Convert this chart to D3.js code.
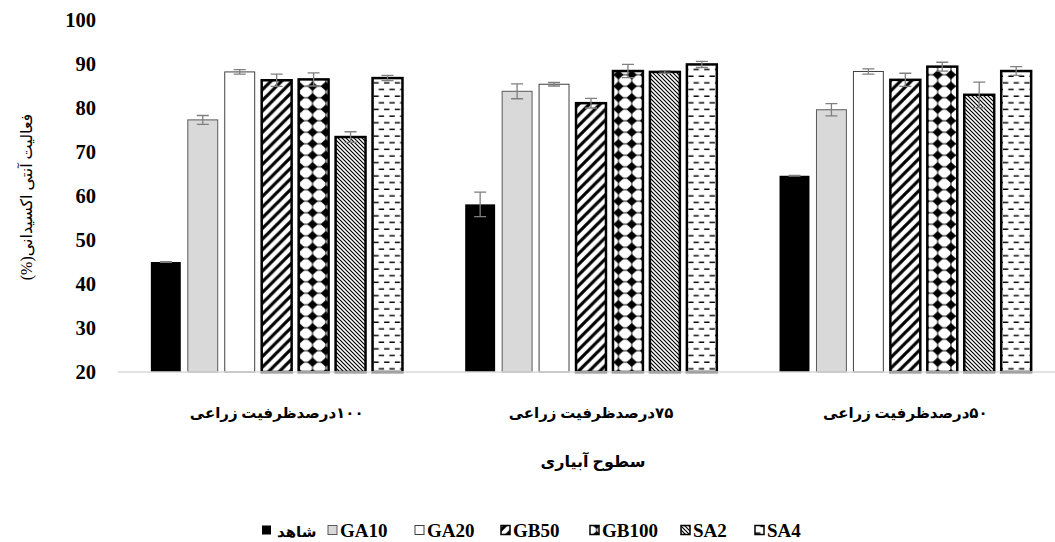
<!DOCTYPE html>
<html>
<head>
<meta charset="utf-8">
<script src="https://cdn.jsdelivr.net/npm/d3@7"></script>
<style>
  html, body { margin: 0; padding: 0; background: #fff; }
  svg { display: block; }
  .fa { direction: rtl; unicode-bidi: embed; }
</style>
</head>
<body>
<svg id="chart" width="1055" height="542"></svg>
<script>
// Irrigation levels (x groups)
const groups = ["۱۰۰درصدظرفیت زراعی", "۷۵درصدظرفیت زراعی", "۵۰درصدظرفیت زراعی"];
// Treatments (series)
const series = ["شاهد", "GA10", "GA20", "GB50", "GB100", "SA2", "SA4"];
// Antioxidant activity (%) per treatment, one value per irrigation level
const controlVals = [45.0, 58.1, 64.6];
const ga10Vals    = [77.3, 83.8, 79.6];
const ga20Vals    = [88.2, 85.4, 88.3];
const gb50Vals    = [86.3, 81.1, 86.4];
const gb100Vals   = [86.5, 88.4, 89.4];
const sa2Vals     = [73.4, 88.2, 83.0];
const sa4Vals     = [86.8, 89.9, 88.4];
// Standard errors
const controlErr = [0.1, 2.8, 0.1];
const ga10Err    = [1.0, 1.7, 1.4];
const ga20Err    = [0.5, 0.4, 0.6];
const gb50Err    = [1.4, 1.1, 1.5];
const gb100Err   = [1.5, 1.5, 1.0];
const sa2Err     = [1.2, 0.3, 2.9];
const sa4Err     = [0.6, 0.7, 1.0];
// Axis ticks and titles
const yTicks = [20, 30, 40, 50, 60, 70, 80, 90, 100];
const yTitle = "فعالیت آنتی اکسیدانی(%)";
const xTitle = "سطوح آبیاری";

const valueTable = [controlVals, ga10Vals, ga20Vals, gb50Vals, gb100Vals, sa2Vals, sa4Vals];
const errTable = [controlErr, ga10Err, ga20Err, gb50Err, gb100Err, sa2Err, sa4Err];

const rows = [];
groups.forEach((g, gi) => {
  series.forEach((s, si) => {
    rows.push({ group: g, series: s, si, value: valueTable[si][gi], err: errTable[si][gi] });
  });
});

const svg = d3.select("#chart");
const latin = "'Liberation Serif', 'Times New Roman', serif";
const persian = "'Liberation Serif', 'DejaVu Sans', sans-serif";

// ---- fill patterns ----
const defs = svg.append("defs");
const u = 10.67;

// wide upward diagonal
const pWide = defs.append("pattern").attr("id", "p-gb50")
  .attr("patternUnits", "userSpaceOnUse").attr("width", u).attr("height", u);
pWide.append("rect").attr("width", u).attr("height", u).attr("fill", "#fff");
pWide.append("path")
  .attr("d", `M${-u},${u} L${u},${-u} M0,${2*u} L${2*u},0 M${-u},${2*u} L${2*u},${-u}`)
  .attr("stroke", "#000").attr("stroke-width", 3.2);

// solid diamonds
const dw = 13.3, dh = 11.5;
const pDia = defs.append("pattern").attr("id", "p-gb100")
  .attr("patternUnits", "userSpaceOnUse").attr("width", dw).attr("height", dh);
pDia.append("rect").attr("width", dw).attr("height", dh).attr("fill", "#fff");
const cx0 = dw / 2, cy0 = dh / 2, rx = 5.2, ry = 4.8;
pDia.append("path")
  .attr("d", `M${cx0},${cy0 - ry} L${cx0 + rx},${cy0} L${cx0},${cy0 + ry} L${cx0 - rx},${cy0} Z`)
  .attr("fill", "#000");
pDia.append("path")
  .attr("d", `M${cx0},0 V${dh} M0,${cy0} H${dw}`)
  .attr("stroke", "#000").attr("stroke-width", 0.9);

// dark downward diagonal
const pDown = defs.append("pattern").attr("id", "p-sa2")
  .attr("patternUnits", "userSpaceOnUse").attr("width", 4).attr("height", 4);
pDown.append("rect").attr("width", 4).attr("height", 4).attr("fill", "#fff");
pDown.append("path")
  .attr("d", "M-1,-1 L5,5 M-1,3 L1,5 M3,-1 L5,1")
  .attr("stroke", "#000").attr("stroke-width", 1.2);

// dashed horizontal
const pDash = defs.append("pattern").attr("id", "p-sa4")
  .attr("patternUnits", "userSpaceOnUse").attr("width", u).attr("height", 13.3);
pDash.append("rect").attr("width", u).attr("height", 13.3).attr("fill", "#fff");
pDash.append("path")
  .attr("d", `M0,3 H5.3 M5.3,9.7 H${u}`)
  .attr("stroke", "#000").attr("stroke-width", 1.4);

const styles = {
  "شاهد":  { fill: "#000",            stroke: "none",    sw: 0 },
  "GA10":  { fill: "#d9d9d9",         stroke: "#5a5a5a", sw: 1 },
  "GA20":  { fill: "#fff",            stroke: "#404040", sw: 1 },
  "GB50":  { fill: "url(#p-gb50)",    stroke: "#000",    sw: 2.5 },
  "GB100": { fill: "url(#p-gb100)",   stroke: "#000",    sw: 2.5 },
  "SA2":   { fill: "url(#p-sa2)",     stroke: "#000",    sw: 2.5 },
  "SA4":   { fill: "url(#p-sa4)",     stroke: "#000",    sw: 2.5 }
};

// ---- scales ----
const x0 = d3.scaleBand().domain(groups).range([119.5, 1062.5])
  .paddingInner(0.176).paddingOuter(0.088);
const x1 = d3.scaleBand().domain(series).range([0, x0.bandwidth()])
  .paddingInner(0.19).paddingOuter(0.1);
const y = d3.scaleLinear().domain([20, 100]).range([372, 20]);

// ---- y axis labels ----
const yAxis = svg.append("g").attr("transform", "translate(118,0)")
  .call(d3.axisLeft(y).tickValues(yTicks).tickSize(0).tickPadding(22));
yAxis.select(".domain").remove();
yAxis.selectAll("text")
  .attr("font-family", latin).attr("font-weight", "bold")
  .attr("font-size", 20.5).attr("fill", "#000");

// ---- bars ----
const barG = svg.append("g");
barG.selectAll("rect").data(rows).join("rect")
  .attr("x", d => x0(d.group) + x1(d.series))
  .attr("y", d => y(d.value))
  .attr("width", x1.bandwidth())
  .attr("height", d => y(20) - y(d.value))
  .attr("fill", d => styles[d.series].fill)
  .attr("stroke", d => styles[d.series].stroke)
  .attr("stroke-width", d => styles[d.series].sw);

// ---- baseline ----
svg.append("line")
  .attr("x1", 118).attr("x2", 1055)
  .attr("y1", y(20)).attr("y2", y(20))
  .attr("stroke", "#d9d9d9").attr("stroke-width", 1.3);

// ---- error bars ----
const errG = svg.append("g").attr("stroke", "#7f7f7f").attr("stroke-width", 1.3).attr("fill", "none");
rows.forEach(d => {
  const cx = x0(d.group) + x1(d.series) + x1.bandwidth() / 2;
  const y1 = y(d.value + d.err), y2 = y(d.value - d.err);
  errG.append("path")
    .attr("d", `M${cx},${y1} V${y2} M${cx - 6},${y1} H${cx + 6} M${cx - 6},${y2} H${cx + 6}`);
});

// ---- category labels ----
svg.append("g").selectAll("text").data(groups).join("text")
  .attr("class", "fa")
  .attr("x", d => x0(d) + x0.bandwidth() / 2)
  .attr("y", 418)
  .attr("text-anchor", "middle")
  .attr("font-family", persian).attr("font-weight", "bold").attr("font-size", 15)
  .text(d => d);

// ---- axis titles ----
svg.append("text").attr("class", "fa")
  .attr("x", 593).attr("y", 467)
  .attr("text-anchor", "middle")
  .attr("font-family", persian).attr("font-weight", "bold").attr("font-size", 16)
  .text(xTitle);

svg.append("text").attr("class", "fa")
  .attr("transform", "translate(32,197) rotate(-90)")
  .attr("text-anchor", "middle")
  .attr("font-family", persian).attr("font-size", 16)
  .text(yTitle);

// ---- legend ----
const legendX = [262, 328, 415, 501, 590, 681, 755];
const leg = svg.append("g");
series.forEach((s, i) => {
  const st = styles[s];
  const g = leg.append("g").attr("transform", `translate(${legendX[i]},530)`);
  g.append("rect").attr("x", 0).attr("y", -4.5).attr("width", 9).attr("height", 9)
    .attr("fill", st.fill).attr("stroke", st.stroke === "none" ? "none" : st.stroke)
    .attr("stroke-width", st.sw ? Math.min(st.sw, 1.5) : 0);
  const t = g.append("text")
    .attr("y", 6.5)
    .attr("font-weight", "bold");
  if (i === 0) {
    // right-to-left label: its "end" is the left edge
    t.attr("class", "fa").attr("x", 15).attr("text-anchor", "end")
      .attr("font-family", persian).attr("font-size", 15);
  } else {
    t.attr("x", 12).attr("text-anchor", "start")
      .attr("font-family", latin).attr("font-size", 19);
  }
  t.text(s);
});
</script>
</body>
</html>
